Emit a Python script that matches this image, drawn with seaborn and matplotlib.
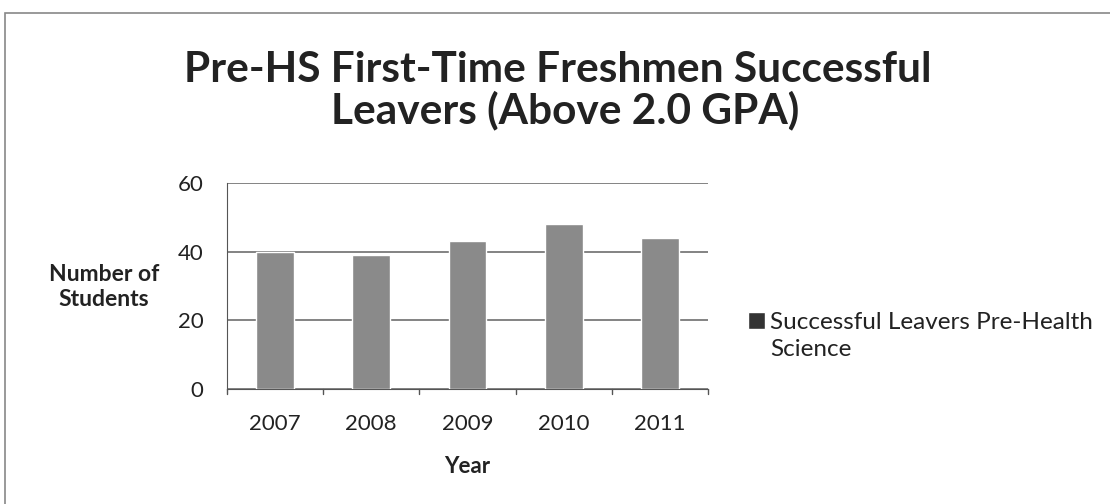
import matplotlib
matplotlib.use("Agg")
import matplotlib.pyplot as plt
import seaborn as sns
import pandas as pd
from matplotlib.patches import Rectangle
from matplotlib.container import BarContainer
from matplotlib.legend_handler import HandlerPatch

years = ["2007", "2008", "2009", "2010", "2011"]
students = [40, 39, 43, 48, 44]
series_name = "Successful Leavers Pre-Health\nScience"

sns.set_style("white")
plt.rcParams['font.family'] = ['Lato', 'DejaVu Sans']

df = pd.DataFrame({"Year": years, "Students": students})

W, H = 1110, 504
fig = plt.figure(figsize=(W / 100, H / 100), dpi=100)
ax = fig.add_axes([227 / W, 1 - 389 / H, 481 / W, 206 / H])

sns.barplot(data=df, x="Year", y="Students", color="#8a8a8a", width=0.395,
            saturation=1, ax=ax, zorder=3, label=series_name)

ax.set_ylim(0, 60)
ax.set_yticks([0, 20, 40, 60])
ax.set_xlim(-0.5, 4.5)
ax.yaxis.grid(True, color="#6e6e6e", linewidth=1.2, zorder=0)
for s in ["top", "right"]:
    ax.spines[s].set_visible(False)
ax.spines["left"].set_color("#555555")
ax.spines["bottom"].set_color("#555555")
ax.tick_params(axis="both", labelsize=16, colors="#222222")
ax.tick_params(axis="y", length=5, width=1, color="#555555", pad=12)
ax.set_xticks([0, 1, 2, 3, 4])
ax.set_xticklabels(years)
ax.tick_params(axis="x", length=0, pad=18)
# category separator ticks on the x axis
for xp in [-0.5, 0.5, 1.5, 2.5, 3.5, 4.5]:
    ax.plot([xp, xp], [0, -1.6], color="#555555", lw=1, clip_on=False)

ax.set_xlabel("Year", fontsize=16, fontweight="bold", labelpad=16,
              color="#222222")
ax.set_ylabel("")
fig.text(104 / W, 1 - 287 / H, "Number of\nStudents", fontsize=16.5,
         fontweight="bold", ha="center", va="center", linespacing=1.25,
         color="#222222")

fig.text(558 / W, 1 - 82 / H, "Pre-HS First-Time Freshmen Successful",
         fontsize=30.5, fontweight="bold", ha="center", va="baseline",
         color="#222222")
fig.text(565 / W, 1 - 123 / H, "Leavers (Above 2.0 GPA)",
         fontsize=30.5, fontweight="bold", ha="center", va="baseline",
         color="#222222")


def top_square(legend, orig_handle, xdescent, ydescent, width, height, fontsize):
    return Rectangle((-xdescent, -ydescent + 0.62 * fontsize), width, height)


def first_child(legend_handle, orig_handle):
    legend_handle.update_from(orig_handle.patches[0])


leg = ax.legend(loc="center left", bbox_to_anchor=(748 / W, 1 - 336 / H),
                bbox_transform=fig.transFigure, frameon=False, fontsize=17.5,
                handlelength=0.7, handleheight=0.7, handletextpad=0.2,
                labelspacing=0, borderpad=0, borderaxespad=0,
                handler_map={BarContainer: HandlerPatch(patch_func=top_square,
                                                        update_func=first_child)})
for t in leg.get_texts():
    t.set_linespacing(1.3)
    t.set_color("#222222")
for h in leg.legend_handles:
    h.set_facecolor("#333333")

# outer frame of the chart
fig.patches.append(Rectangle((5 / W, -0.1), 1.2, 1 - 13 / H + 0.1,
                             transform=fig.transFigure, fill=False,
                             edgecolor="#888888", linewidth=1.2))

fig.savefig("out.png", dpi=100, facecolor="white")
